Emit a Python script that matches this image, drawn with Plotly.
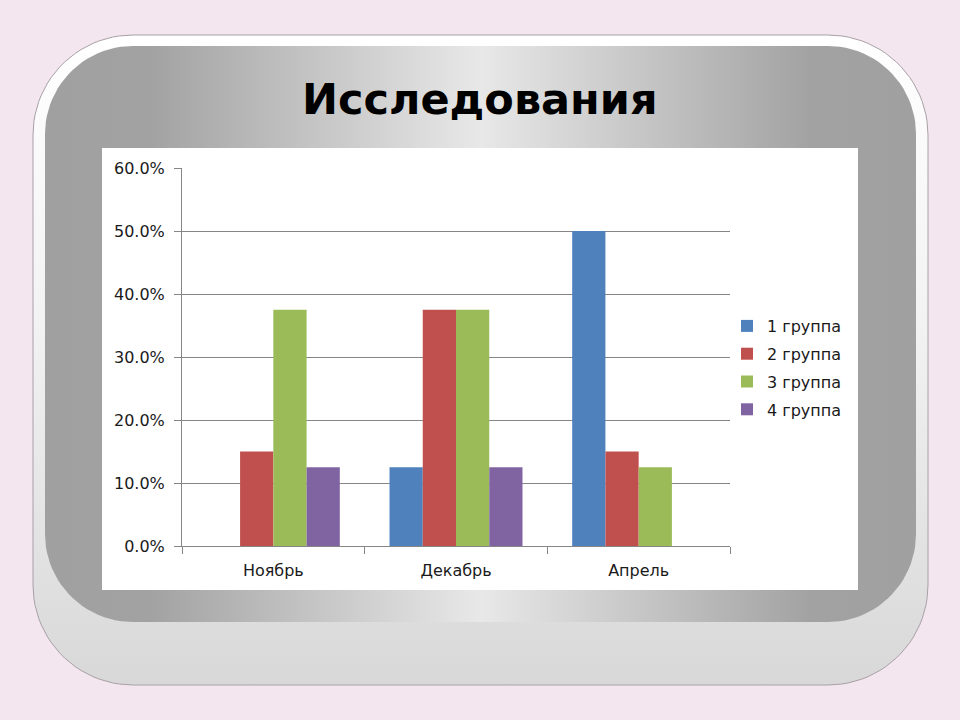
import numpy as np
import plotly.graph_objects as go

# ---------------- data ----------------
categories = ["Ноябрь", "Декабрь", "Апрель"]
series_names = ["1 группа", "2 группа", "3 группа", "4 группа"]
group1 = [0.0, 0.125, 0.50]
group2 = [0.15, 0.375, 0.15]
group3 = [0.375, 0.375, 0.125]
group4 = [0.125, 0.125, 0.0]
series_values = [group1, group2, group3, group4]
series_colors = ["#4f81bd", "#c0504d", "#9bbb59", "#8064a2"]
title_text = "Исследования"

W, H = 960, 720


def rounded_rect(x0, y0, x1, y1, r, n=24):
    xs, ys = [], []
    corners = [
        (x1 - r, y0 + r, -90, 0),
        (x1 - r, y1 - r, 0, 90),
        (x0 + r, y1 - r, 90, 180),
        (x0 + r, y0 + r, 180, 270),
    ]
    for cx, cy, a0, a1 in corners:
        t = np.radians(np.linspace(a0, a1, n))
        xs += list(cx + r * np.cos(t))
        ys += list(cy + r * np.sin(t))
    xs.append(xs[0])
    ys.append(ys[0])
    return xs, ys


fig = go.Figure()

# ---------------- decorative frame (background subplot in pixel coords) ----------------
ox, oy = rounded_rect(33, 35, 928, 685, 100)
fig.add_trace(go.Scatter(
    x=ox, y=oy, mode="lines", fill="toself",
    line=dict(color="#a8a0a6", width=1),
    fillgradient=dict(type="vertical", start=35, stop=685,
                      colorscale=[[0, "#ffffff"], [0.45, "#f2f2f2"], [1, "#d8d8d8"]]),
    hoverinfo="skip", showlegend=False, xaxis="x", yaxis="y"))

ix, iy = rounded_rect(45, 46, 916, 622, 88)
fig.add_trace(go.Scatter(
    x=ix, y=iy, mode="lines", fill="toself",
    line=dict(color="rgba(0,0,0,0)", width=0),
    fillgradient=dict(type="horizontal", start=45, stop=916,
                      colorscale=[[0, "#a0a0a0"], [0.12, "#a2a2a2"], [0.5, "#e8e8e8"],
                                  [0.88, "#a2a2a2"], [1, "#a0a0a0"]]),
    hoverinfo="skip", showlegend=False, xaxis="x", yaxis="y"))

fig.add_trace(go.Scatter(
    x=[102, 858, 858, 102, 102], y=[148, 148, 590, 590, 148], mode="lines", fill="toself",
    fillcolor="#ffffff", line=dict(color="rgba(0,0,0,0)", width=0),
    hoverinfo="skip", showlegend=False, xaxis="x", yaxis="y"))

# ---------------- bars ----------------
for name, vals, col in zip(series_names, series_values, series_colors):
    fig.add_trace(go.Bar(
        x=categories, y=vals, name=name, legendgroup=name,
        marker=dict(color=col, line=dict(width=0)),
        xaxis="x2", yaxis="y2", hoverinfo="skip"))

grid = "#868686"
txt = "#1a1a1a"
fig.update_layout(
    width=W, height=H,
    margin=dict(l=0, r=0, t=0, b=0, pad=0, autoexpand=False),
    paper_bgcolor="#f3e6ee",
    plot_bgcolor="rgba(0,0,0,0)",
    barmode="group", bargap=0.272, bargroupgap=0,
    font=dict(family="DejaVu Sans", size=16, color=txt),
    xaxis=dict(domain=[0, 1], range=[0, W], visible=False, fixedrange=True, automargin=False),
    yaxis=dict(domain=[0, 1], range=[H, 0], visible=False, fixedrange=True, automargin=False),
    xaxis2=dict(domain=[182 / W, 730 / W], anchor="y2", automargin=False,
                showline=True, linecolor=grid, linewidth=1,
                ticks="outside", ticklen=7, tickcolor=grid, tickson="boundaries",
                ticklabelstandoff=10,
                showgrid=False, tickfont=dict(size=16, color=txt)),
    yaxis2=dict(domain=[(H - 546) / H, (H - 168) / H], anchor="x2", automargin=False,
                range=[0, 0.6], dtick=0.1, tickformat=".1%",
                showline=True, linecolor=grid, linewidth=1,
                ticks="outside", ticklen=7, tickcolor=grid,
                ticklabelstandoff=6,
                showgrid=True, gridcolor=grid, gridwidth=1, zeroline=False,
                tickfont=dict(size=16, color=txt)),
    legend=dict(x=727 / W, y=(H - 368) / H, xanchor="left", yanchor="middle",
                bgcolor="rgba(0,0,0,0)", font=dict(size=16, color=txt),
                tracegroupgap=4, itemclick=False, itemdoubleclick=False),
    annotations=[dict(text="<b>" + title_text + "</b>", x=480, y=99, xref="x", yref="y",
                      showarrow=False, xanchor="center", yanchor="middle",
                      font=dict(family="DejaVu Sans", size=43, color="#000000"))],
)

post = (
    "document.documentElement.style.margin='0';"
    "document.documentElement.style.overflow='hidden';"
    "document.body.style.margin='0';"
    "document.body.style.overflow='hidden';"
    "var gd=document.getElementById('{plot_id}');"
    "gd.style.position='fixed';gd.style.top='0px';gd.style.left='0px';"
)
fig.write_html("out.html", config={"displayModeBar": False, "staticPlot": True}, post_script=post)
